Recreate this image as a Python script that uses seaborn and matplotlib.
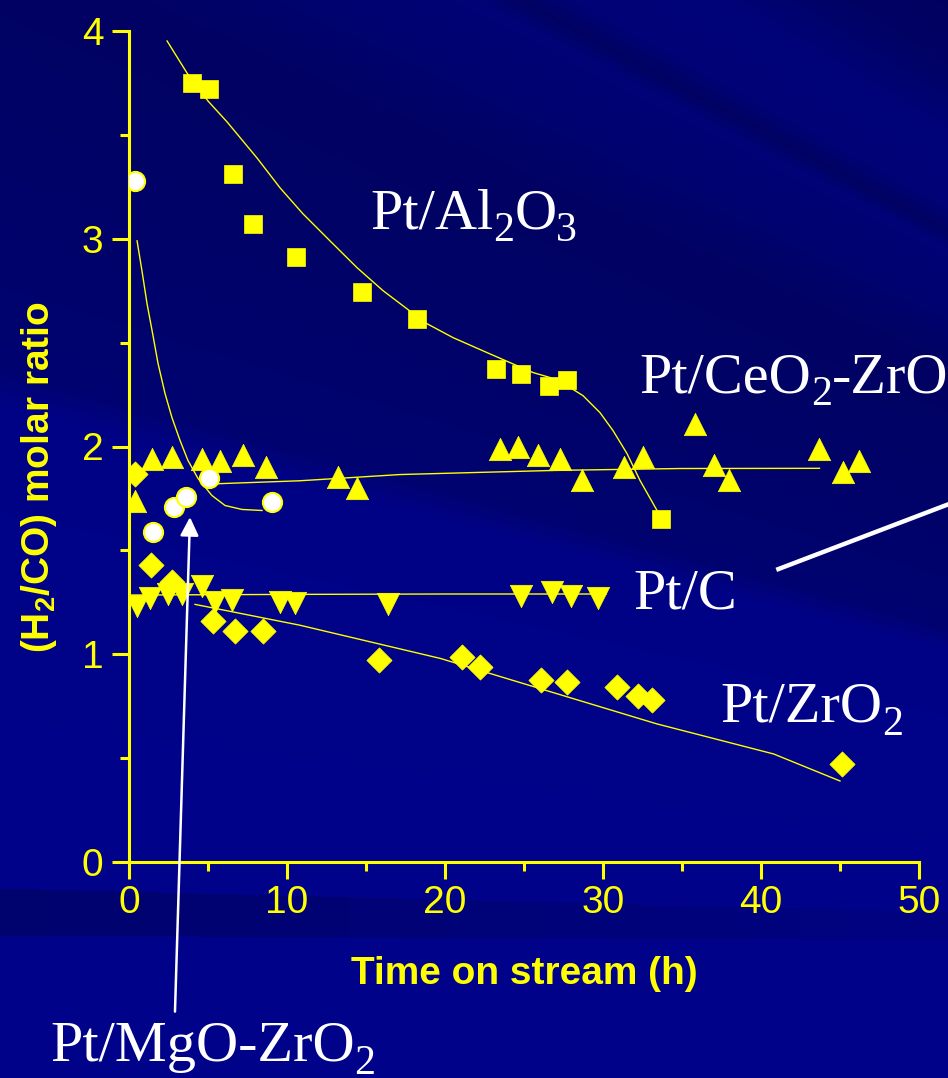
import numpy as np
import matplotlib
matplotlib.use("Agg")
import matplotlib.pyplot as plt
from matplotlib.transforms import offset_copy
import seaborn as sns

# ---- data ----
# Pt/Al2O3 (squares)
al_t = [3.99, 5.06, 6.58, 7.85, 10.57, 14.75, 18.23, 23.2, 24.8, 26.6, 27.7, 33.7]
al_r = [3.75, 3.72, 3.31, 3.07, 2.91, 2.745, 2.615, 2.375, 2.35, 2.29, 2.32, 1.65]
al_fit_t = [2.41, 3.67, 5.00, 6.20, 8.10, 9.56, 11.01, 12.72, 14.43, 16.08, 17.59, 18.86,
            20.51, 22.66, 24.11, 25.57, 26.65, 27.72, 28.73, 29.81, 30.63, 31.52, 32.34, 33.42]
al_fit_r = [3.952, 3.798, 3.663, 3.563, 3.389, 3.245, 3.120, 2.990, 2.861, 2.750, 2.663, 2.591,
            2.524, 2.452, 2.404, 2.356, 2.332, 2.293, 2.245, 2.163, 2.077, 1.966, 1.837, 1.692]

# Pt/CeO2-ZrO2 (up triangles)
ce_t = [0.38, 1.46, 2.72, 4.62, 5.76, 7.22, 8.67, 13.2, 14.4, 23.5, 24.6, 25.9, 27.3, 28.7,
        31.3, 32.5, 35.8, 37.0, 38.0, 43.7, 45.2, 46.2]
ce_r = [1.74, 1.94, 1.95, 1.94, 1.93, 1.96, 1.90, 1.855, 1.80, 1.99, 2.00, 1.96, 1.94, 1.84,
        1.90, 1.95, 2.11, 1.91, 1.84, 1.99, 1.875, 1.93]
ce_fit_t = [5.3, 10.8, 17.15, 22.0, 27.0, 34.9, 43.7]
ce_fit_r = [1.82, 1.835, 1.865, 1.875, 1.885, 1.894, 1.895]

# Pt/ZrO2 (diamonds)
zr_t = [0.4, 1.39, 2.7, 5.3, 6.7, 8.5, 15.8, 21.1, 22.2, 26.1, 27.7, 30.9, 32.2, 33.1, 45.1]
zr_r = [1.87, 1.43, 1.35, 1.16, 1.11, 1.11, 0.97, 0.985, 0.94, 0.875, 0.865, 0.84, 0.80, 0.78, 0.47]
zr_fit_t = [4.18, 10.8, 19.7, 26.0, 33.4, 40.8, 45.0]
zr_fit_r = [1.24, 1.14, 0.98, 0.835, 0.665, 0.52, 0.39]

# Pt/C (down triangles)
c_t = [0.5, 1.33, 2.47, 3.35, 4.62, 5.44, 6.52, 9.56, 10.5, 16.4, 24.8, 26.8, 28.0, 29.7]
c_r = [1.23, 1.27, 1.29, 1.29, 1.33, 1.25, 1.26, 1.25, 1.245, 1.24, 1.28, 1.30, 1.28, 1.27]
c_fit_t = [0.1, 10.0, 20.0, 30.2]
c_fit_r = [1.285, 1.288, 1.29, 1.29]

# Pt/MgO-ZrO2 (open circles)
mg_t = [0.38, 1.52, 2.85, 3.61, 5.06, 9.05]
mg_r = [3.28, 1.59, 1.71, 1.755, 1.85, 1.735]
mg_fit_t = [0.51, 0.82, 1.14, 1.46, 1.84, 2.28, 2.72, 3.23, 3.73, 4.37, 5.25, 6.08, 7.15, 8.42]
mg_fit_r = [2.990, 2.846, 2.688, 2.558, 2.399, 2.255, 2.139, 2.029, 1.933, 1.846, 1.764, 1.716,
            1.697, 1.692]

x_ticks = [0, 10, 20, 30, 40, 50]
y_ticks = [0, 1, 2, 3, 4]

YEL = "#ffff00"
W, H = 948, 1078

plt.rcParams["font.family"] = ["Liberation Sans", "DejaVu Sans"]

fig = plt.figure(figsize=(W / 100, H / 100), dpi=100)

# background: dark blue fan of diagonal bands plus a dark strip under the axis
yy, xx = np.mgrid[0:H, 0:W]
theta = np.degrees(np.arctan2(1037 - yy, 2445 - xx))
nodes = [-3, 5, 14.5, 15.3, 20, 24, 26, 27.8, 28.3, 29.0, 31, 33, 36]
level = [138, 138, 134, 112, 104, 98, 112, 118, 98, 118, 120, 100, 92]
b = np.interp(theta, nodes, level)
strip_top = 888 + 0.025 * xx
strip_bot = 935 + 0.005 * xx
in_strip = (yy > strip_top) & (yy < strip_bot)
b = np.where(in_strip, b - 28 + 0.02 * xx, b)
img = np.dstack([np.zeros_like(b), b * 0.02, b]) / 255.0
bg = fig.add_axes([0, 0, 1, 1])
bg.imshow(img, extent=[0, 1, 0, 1], aspect="auto")
bg.axis("off")

ax = fig.add_axes([129 / W, 1 - 862 / H, 790 / W, 831 / H])
ax.set_facecolor("none")

line_kw = dict(color=YEL, lw=1.0, sort=False, estimator=None, ax=ax, zorder=2)
sns.lineplot(x=al_fit_t, y=al_fit_r, **line_kw)
sns.lineplot(x=ce_fit_t, y=ce_fit_r, **line_kw)
sns.lineplot(x=zr_fit_t, y=zr_fit_r, **line_kw)
sns.lineplot(x=c_fit_t, y=c_fit_r, **line_kw)
sns.lineplot(x=mg_fit_t, y=mg_fit_r, **line_kw)

sns.scatterplot(x=al_t, y=al_r, marker="s", s=185, color=YEL, edgecolor=YEL, linewidth=0.5, ax=ax, zorder=3)
sns.scatterplot(x=ce_t, y=ce_r, marker="^", s=260, color=YEL, edgecolor=YEL, linewidth=0.5, ax=ax, zorder=3)
sns.scatterplot(x=zr_t, y=zr_r, marker="D", s=165, color=YEL, edgecolor=YEL, linewidth=0.5, ax=ax, zorder=3)
sns.scatterplot(x=c_t, y=c_r, marker="v", s=260, color=YEL, edgecolor=YEL, linewidth=0.5, ax=ax, zorder=3)
sns.scatterplot(x=mg_t, y=mg_r, marker="o", s=190, color="white", edgecolor=YEL, linewidth=1.5, ax=ax, zorder=4)

ax.set_xlim(0, 50)
ax.set_ylim(0, 4)
ax.set_xticks(x_ticks)
ax.set_yticks(y_ticks)
ax.set_xticks(np.arange(5, 50, 10), minor=True)
ax.set_yticks(np.arange(0.5, 4, 1.0), minor=True)

for side in ["top", "right"]:
    ax.spines[side].set_visible(False)
for side in ["left", "bottom"]:
    ax.spines[side].set_color(YEL)
    ax.spines[side].set_linewidth(2.2)

ax.tick_params(axis="both", which="major", direction="out", length=12.5, width=2.2,
               color=YEL, labelcolor=YEL, labelsize=28)
ax.tick_params(axis="both", which="minor", direction="out", length=6.5, width=2.2, color=YEL)
ax.tick_params(axis="x", which="major", pad=4)
ax.tick_params(axis="y", which="major", pad=6)

ax.set_xlabel("Time on stream (h)", color=YEL, fontsize=28, fontweight="bold")
ax.set_ylabel(r"(H$\mathregular{_2}$/CO) molar ratio", color=YEL, fontsize=28, fontweight="bold")
ax.xaxis.set_label_coords(0.5, -0.113)
ax.yaxis.set_label_coords(-0.088, 0.463)

# serif labels with real subscripts (pieces placed one after another)
renderer = fig.canvas.get_renderer()
FS = 42


def serif_label(x, y, pieces):
    dx = 0.0
    for s, sub in pieces:
        size = FS * 0.72 if sub else FS
        dy = -0.22 * FS if sub else 0.0
        tr = offset_copy(ax.transData, fig=fig, x=dx, y=dy, units="points")
        t = ax.text(x, y, s, transform=tr, fontsize=size, color="white",
                    family=["Liberation Serif", "DejaVu Serif"],
                    ha="left", va="baseline", clip_on=False)
        dx += t.get_window_extent(renderer).width * 72 / fig.dpi


serif_label(15.25, 3.05, [("Pt/Al", 0), ("2", 1), ("O", 0), ("3", 1)])
serif_label(32.3, 2.26, [("Pt/CeO", 0), ("2", 1), ("-ZrO", 0), ("2", 1)])
serif_label(31.9, 1.22, [("Pt/C", 0)])
serif_label(37.4, 0.675, [("Pt/ZrO", 0), ("2", 1)])
serif_label(-5.0, -0.96, [("Pt/MgO-ZrO", 0), ("2", 1)])

ax.annotate("", xy=(3.86, 1.66), xytext=(2.91, -0.72),
            arrowprops=dict(arrowstyle="-|>", color="white", lw=1.8, mutation_scale=28,
                            shrinkA=0, shrinkB=0),
            annotation_clip=False, zorder=5)
ax.plot([41.1, 53.0], [1.41, 1.755], color="white", lw=3.2, clip_on=False, zorder=5)

fig.savefig("out.png", dpi=100)
